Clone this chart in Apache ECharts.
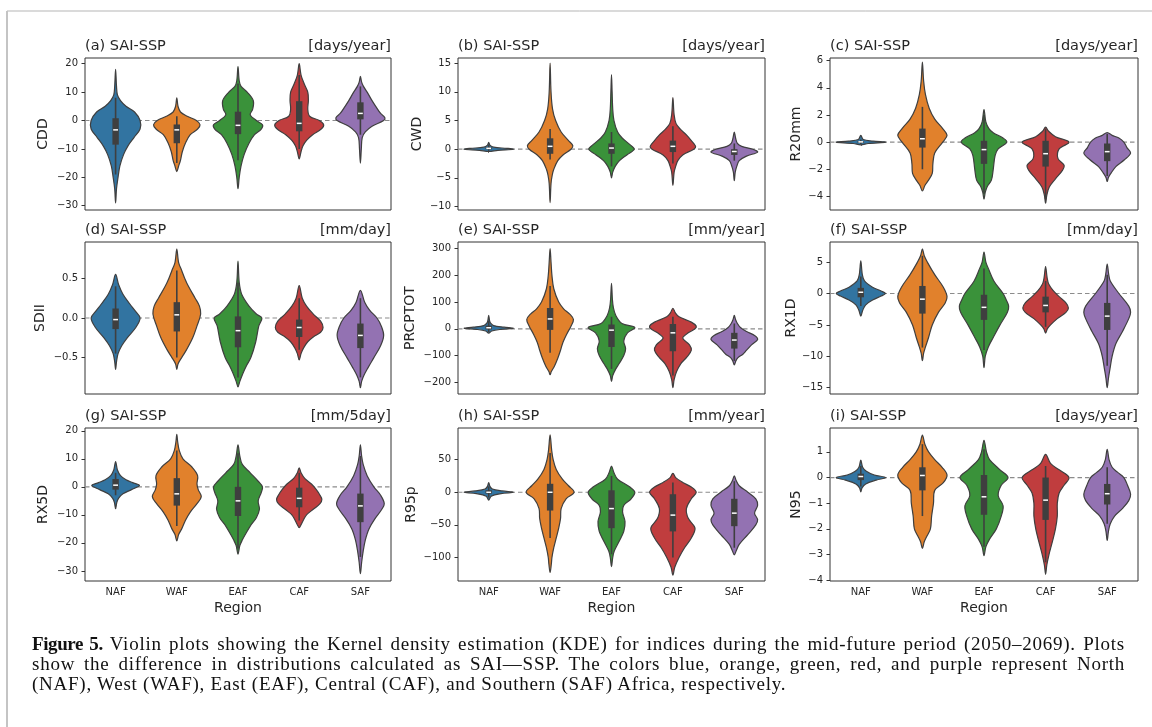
<!DOCTYPE html>
<html>
<head>
<meta charset="utf-8">
<script src="https://cdn.jsdelivr.net/npm/echarts@6/dist/echarts.min.js"></script>
<style>
html, body {margin: 0; padding: 0; background: #fff;}
#wrap {position: relative; width: 1152px; height: 727px; overflow: hidden;}
#chart {width: 1152px; height: 727px;}
#caption {position: absolute; left: 32px; top: 634px; width: 1093px; color: #111;
    font-family: "Liberation Serif", "DejaVu Serif", serif; font-size: 19px; line-height: 20px; letter-spacing: 0.75px;}
#caption b {letter-spacing: -0.4px;}
#caption .jl {text-align: justify; text-align-last: justify;}
</style>
</head>
<body>
<div id="wrap">
<div id="chart"></div>
<div id="caption">
<div class="jl"><b>Figure 5.</b> Violin plots showing the Kernel density estimation (KDE) for indices during the mid-future period (2050–2069). Plots</div>
<div class="jl">show the difference in distributions calculated as SAI—SSP. The colors blue, orange, green, red, and purple represent North</div>
<div>(NAF), West (WAF), East (EAF), Central (CAF), and Southern (SAF) Africa, respectively.</div>
</div>
</div>
<script>
var regions = ['NAF', 'WAF', 'EAF', 'CAF', 'SAF'];
var palette = ['#3274a1', '#e1812c', '#3a923a', '#c03d3e', '#9372b2'];

// violin outline per region: [value, half width in category units]
// box per region: [low whisker, q1, median, q3, high whisker]
var cddShape = [
    [[-29,0],[-24,0.015],[-20,0.04],[-16,0.07],[-12,0.13],[-9,0.2],[-6,0.3],[-3,0.4],[0,0.4],[3,0.31],[5,0.17],[7,0.08],[9,0.03],[12,0.015],[18,0]],
    [[-18,0],[-16,0.03],[-14,0.06],[-11,0.09],[-8,0.14],[-5,0.22],[-3,0.34],[-1.5,0.38],[0,0.32],[1.5,0.17],[3,0.06],[5,0.02],[8,0]],
    [[-24,0],[-20,0.02],[-16,0.05],[-12,0.1],[-8,0.18],[-5,0.27],[-3,0.38],[-1.5,0.4],[0,0.3],[2,0.2],[4,0.24],[7,0.25],[10,0.15],[12,0.05],[14,0.02],[19,0]],
    [[-13.5,0],[-11,0.03],[-9,0.06],[-7,0.12],[-5,0.22],[-3,0.36],[-1.5,0.4],[0,0.33],[1.5,0.17],[4,0.14],[7,0.15],[10,0.14],[13,0.08],[16,0.03],[20,0]],
    [[-15,0],[-10,0.015],[-6,0.03],[-4,0.08],[-2,0.19],[0,0.38],[1,0.4],[2.5,0.33],[5,0.25],[7,0.19],[10,0.11],[12,0.05],[13.5,0.02],[15.5,0]]
];
var cddBox = [[-19,-8.5,-3.3,0.8,8], [-15,-8,-3.3,-1.4,1.5], [-14,-4.8,-1.7,3.1,13], [-10,-3.8,-1,6.8,16], [-5,0.4,2.5,6.4,12]];
var cddTicks = [-30, -20, -10, 0, 10, 20];

var cwdShape = [
    [[-0.4,0],[-0.2,0.15],[0,0.4],[0.15,0.3],[0.35,0.08],[0.7,0.02],[1.2,0]],
    [[-9.3,0],[-6,0.015],[-4.5,0.035],[-3.5,0.06],[-2,0.125],[-1,0.21],[0,0.34],[0.6,0.37],[1.5,0.3],[3,0.18],[5,0.09],[7,0.04],[10,0.015],[15,0]],
    [[-5,0],[-4,0.02],[-3,0.06],[-2,0.13],[-1,0.25],[0,0.37],[0.8,0.3],[2,0.17],[3,0.1],[5,0.04],[7,0.02],[10,0.01],[13,0]],
    [[-6.3,0],[-4,0.02],[-3,0.045],[-2,0.08],[-1,0.16],[0,0.34],[0.5,0.37],[1.5,0.3],[2.5,0.22],[3.5,0.12],[4.5,0.05],[6,0.02],[9,0]],
    [[-5.5,0],[-4,0.015],[-3,0.04],[-2,0.08],[-1.2,0.2],[-0.5,0.38],[0,0.3],[0.5,0.12],[1,0.05],[2,0.02],[3,0]]
];
var cwdBox = [[-0.3,0,0.15,0.3,0.8], [-1.8,-0.8,0.5,1.9,3.5], [-3,-0.8,0.2,1,3], [-2.5,-0.5,0.5,1.5,4], [-2,-1,-0.4,0,1]];
var cwdTicks = [-10, -5, 0, 5, 10, 15];

var r20Shape = [
    [[-0.2,0],[-0.1,0.12],[0,0.4],[0.08,0.2],[0.2,0.04],[0.5,0]],
    [[-3.6,0],[-3.2,0.04],[-2.8,0.1],[-2.3,0.16],[-1.6,0.17],[-0.8,0.2],[0,0.33],[0.5,0.4],[1,0.33],[1.7,0.2],[2.5,0.11],[3.5,0.05],[4.5,0.02],[5.9,0]],
    [[-4.2,0],[-3.7,0.02],[-3.3,0.05],[-2.8,0.12],[-2,0.15],[-1,0.18],[-0.5,0.23],[0,0.37],[0.3,0.31],[0.7,0.15],[1,0.08],[1.5,0.03],[2.4,0]],
    [[-4.5,0],[-3.9,0.02],[-3.3,0.06],[-2.7,0.16],[-2.1,0.27],[-1.7,0.3],[-1.2,0.2],[-0.5,0.22],[0,0.38],[0.4,0.16],[0.8,0.05],[1.1,0]],
    [[-2.9,0],[-2.6,0.02],[-2.3,0.06],[-1.8,0.14],[-1.3,0.28],[-0.8,0.38],[-0.4,0.32],[0,0.27],[0.3,0.19],[0.5,0.08],[0.7,0]]
];
var r20Box = [[-0.15,-0.05,0.02,0.08,0.2], [-2,-0.4,0.25,1,2.6], [-3.8,-1.6,-0.55,0.1,2], [-4.2,-1.8,-0.85,0.1,1], [-2.5,-1.4,-0.7,-0.1,0.6]];
var r20Ticks = [-4, -2, 0, 2, 4, 6];

var sdiiShape = [
    [[-0.65,0],[-0.55,0.015],[-0.45,0.04],[-0.35,0.1],[-0.25,0.19],[-0.12,0.33],[0,0.4],[0.08,0.33],[0.18,0.23],[0.3,0.12],[0.42,0.05],[0.55,0]],
    [[-0.65,0],[-0.58,0.02],[-0.5,0.08],[-0.4,0.16],[-0.25,0.26],[-0.1,0.33],[0.05,0.39],[0.15,0.37],[0.25,0.3],[0.4,0.19],[0.5,0.13],[0.6,0.08],[0.7,0.03],[0.87,0]],
    [[-0.87,0],[-0.8,0.03],[-0.7,0.08],[-0.6,0.14],[-0.5,0.21],[-0.3,0.29],[-0.1,0.34],[0,0.39],[0.05,0.3],[0.15,0.18],[0.3,0.06],[0.45,0.02],[0.72,0]],
    [[-0.53,0],[-0.45,0.03],[-0.38,0.07],[-0.3,0.14],[-0.24,0.23],[-0.18,0.35],[-0.12,0.39],[-0.04,0.35],[0.05,0.23],[0.15,0.12],[0.25,0.05],[0.41,0]],
    [[-0.88,0],[-0.8,0.02],[-0.72,0.06],[-0.62,0.13],[-0.5,0.22],[-0.35,0.33],[-0.22,0.38],[-0.1,0.34],[0,0.27],[0.1,0.15],[0.2,0.07],[0.35,0]]
];
var sdiiBox = [[-0.45,-0.14,-0.02,0.12,0.4], [-0.5,-0.17,0.04,0.2,0.6], [-0.75,-0.37,-0.16,0.02,0.45], [-0.4,-0.24,-0.12,-0.02,0.25], [-0.75,-0.38,-0.22,-0.07,0.25]];
var sdiiTicks = [-0.5, 0, 0.5];

var prcpShape = [
    [[-16,0],[-8,0.05],[-2,0.2],[2,0.4],[6,0.25],[12,0.08],[20,0.035],[30,0.015],[50,0]],
    [[-172,0],[-160,0.02],[-140,0.07],[-110,0.125],[-80,0.17],[-50,0.21],[-20,0.27],[10,0.34],[35,0.38],[55,0.32],[75,0.22],[100,0.14],[150,0.06],[200,0.03],[250,0.015],[300,0]],
    [[-197,0],[-175,0.02],[-150,0.07],[-130,0.125],[-100,0.2],[-75,0.23],[-45,0.2],[-15,0.26],[5,0.38],[20,0.17],[50,0.07],[80,0.03],[110,0.015],[170,0]],
    [[-220,0],[-190,0.02],[-160,0.06],[-130,0.13],[-105,0.23],[-80,0.3],[-60,0.27],[-35,0.16],[-15,0.25],[0,0.36],[10,0.38],[25,0.3],[45,0.1],[60,0.04],[77,0]],
    [[-135,0],[-120,0.025],[-108,0.06],[-95,0.14],[-80,0.2],[-60,0.28],[-40,0.38],[-25,0.33],[-10,0.2],[5,0.1],[20,0.05],[35,0.02],[50,0]]
];
var prcpBox = [[-12,-2,4,12,30], [-90,-4,37,78,160], [-150,-68,-5,16,45], [-175,-84,-15,18,45], [-120,-74,-42,-15,20]];
var prcpTicks = [-200, -100, 0, 100, 200, 300];

var rx1Shape = [
    [[-3.6,0],[-2.7,0.03],[-1.8,0.08],[-1,0.2],[-0.4,0.33],[0,0.4],[0.4,0.33],[1,0.19],[2,0.06],[3,0.025],[5.2,0]],
    [[-10.7,0],[-9.5,0.02],[-8.5,0.05],[-7,0.1],[-5,0.16],[-3,0.26],[-1.5,0.37],[-0.5,0.4],[1,0.34],[3,0.2],[5,0.08],[6,0.03],[7.1,0]],
    [[-11.8,0],[-10,0.02],[-8.5,0.07],[-7,0.15],[-5,0.26],[-3,0.38],[-2,0.4],[-1,0.36],[0,0.31],[2,0.16],[4,0.07],[5,0.03],[6.6,0]],
    [[-6.3,0],[-5.6,0.03],[-5,0.08],[-4,0.19],[-3,0.33],[-2.3,0.37],[-1.5,0.33],[-0.5,0.22],[0.5,0.12],[1.5,0.05],[2.5,0.025],[4.3,0]],
    [[-15,0],[-13.5,0.02],[-12,0.045],[-10,0.08],[-8,0.14],[-6,0.25],[-4,0.35],[-3,0.38],[-2,0.35],[0,0.19],[2,0.05],[3,0.025],[4.7,0]]
];
var rx1Box = [[-2,-0.6,0.2,0.9,2.7], [-8.6,-3.2,-0.9,1.2,6], [-9,-4.2,-2.2,-0.2,4], [-5.3,-3,-1.9,-0.5,2], [-11.5,-5.8,-3.6,-1.5,3]];
var rx1Ticks = [-15, -10, -5, 0, 5];

var rx5Shape = [
    [[-7.8,0],[-5.5,0.02],[-4,0.05],[-2.5,0.12],[-1,0.26],[0.5,0.39],[1.5,0.28],[2.5,0.17],[4,0.08],[6,0.03],[9,0]],
    [[-19.3,0],[-17,0.03],[-15,0.08],[-12,0.14],[-9,0.22],[-6,0.33],[-3.5,0.4],[-1,0.35],[1,0.33],[4,0.34],[7,0.25],[10,0.1],[13,0.04],[16,0.015],[18.7,0]],
    [[-24,0],[-21,0.03],[-19,0.07],[-17,0.12],[-14,0.2],[-11,0.3],[-8,0.35],[-5,0.33],[-2,0.38],[0,0.4],[2,0.33],[5,0.2],[8,0.07],[11,0.03],[15,0]],
    [[-14.6,0],[-13.5,0.03],[-12,0.065],[-10,0.12],[-8,0.23],[-6,0.34],[-4.5,0.37],[-3,0.34],[-1,0.28],[1,0.2],[3,0.09],[5,0.03],[6.8,0]],
    [[-31,0],[-27,0.02],[-23,0.045],[-19,0.08],[-15,0.14],[-11,0.25],[-8,0.35],[-6,0.39],[-3,0.33],[0,0.22],[4,0.11],[8,0.045],[11,0.02],[15,0]]
];
var rx5Box = [[-3,-1,0.6,2.8,5], [-14,-6.7,-2.5,3.1,13], [-22,-10.4,-5,0,12], [-12,-7.3,-4.1,-0.3,5], [-25,-12.6,-6.8,-2.4,11]];
var rx5Ticks = [-30, -20, -10, 0, 10, 20];

var r95Shape = [
    [[-12,0],[-6,0.04],[-2,0.2],[0,0.4],[2,0.22],[5,0.06],[9,0.02],[15,0]],
    [[-123,0],[-110,0.02],[-100,0.03],[-85,0.06],[-70,0.1],[-55,0.14],[-40,0.17],[-25,0.18],[-10,0.26],[0,0.39],[10,0.3],[20,0.2],[35,0.1],[50,0.05],[65,0.025],[88,0]],
    [[-114,0],[-100,0.02],[-90,0.045],[-75,0.125],[-60,0.2],[-45,0.22],[-30,0.18],[-20,0.2],[-10,0.32],[0,0.38],[8,0.3],[20,0.1],[30,0.04],[40,0]],
    [[-127,0],[-115,0.03],[-100,0.1],[-85,0.19],[-70,0.3],[-55,0.36],[-40,0.25],[-25,0.22],[-10,0.3],[0,0.38],[8,0.3],[15,0.16],[22,0.05],[29,0]],
    [[-96,0],[-90,0.03],[-80,0.08],[-65,0.22],[-50,0.35],[-42,0.38],[-32,0.33],[-20,0.38],[-10,0.35],[0,0.22],[10,0.08],[18,0.03],[25,0]]
];
var r95Box = [[-8,-2,0,3,9], [-70,-28,0,13,60], [-95,-55,-25,3,25], [-100,-60,-35,-3,15], [-85,-52,-32,-10,17]];
var r95Ticks = [-100, -50, 0, 50];

var n95Shape = [
    [[-0.56,0],[-0.4,0.02],[-0.25,0.08],[-0.1,0.25],[0,0.4],[0.1,0.22],[0.25,0.09],[0.4,0.03],[0.68,0]],
    [[-2.76,0],[-2.5,0.03],[-2.3,0.07],[-2,0.13],[-1.5,0.15],[-1,0.18],[-0.5,0.2],[-0.2,0.34],[0.1,0.4],[0.4,0.32],[0.7,0.2],[1,0.1],[1.3,0.04],[1.65,0]],
    [[-3.04,0],[-2.7,0.03],[-2.4,0.09],[-2,0.2],[-1.5,0.28],[-1.1,0.31],[-0.7,0.23],[-0.3,0.28],[0,0.39],[0.3,0.26],[0.7,0.09],[1,0.04],[1.45,0]],
    [[-3.77,0],[-3.4,0.02],[-3,0.055],[-2.5,0.11],[-2,0.16],[-1.5,0.19],[-1,0.19],[-0.6,0.22],[-0.3,0.3],[0,0.38],[0.3,0.22],[0.55,0.08],[0.9,0]],
    [[-2.45,0],[-2.1,0.02],[-1.8,0.05],[-1.5,0.12],[-1.2,0.25],[-0.9,0.35],[-0.65,0.38],[-0.3,0.33],[0,0.27],[0.2,0.17],[0.4,0.08],[0.7,0.03],[1.1,0]]
];
var n95Box = [[-0.35,-0.1,0.04,0.15,0.45], [-1.5,-0.5,0.08,0.4,1.3], [-2.7,-1.45,-0.75,0.1,1.1], [-3.3,-1.65,-0.88,0,0.45], [-1.8,-1.05,-0.63,-0.25,0.4]];
var n95Ticks = [-4, -3, -2, -1, 0, 1];

var panels = [
    {tag: '(a) SAI-SSP', unit: '[days/year]', name: 'CDD', shape: cddShape, box: cddBox, ticks: cddTicks, range: [-31.5, 22], digits: 0, gap: 35},
    {tag: '(b) SAI-SSP', unit: '[days/year]', name: 'CWD', shape: cwdShape, box: cwdBox, ticks: cwdTicks, range: [-10.6, 15.9], digits: 0, gap: 34},
    {tag: '(c) SAI-SSP', unit: '[days/year]', name: 'R20mm', shape: r20Shape, box: r20Box, ticks: r20Ticks, range: [-5, 6.2], digits: 0, gap: 27},
    {tag: '(d) SAI-SSP', unit: '[mm/day]', name: 'SDII', shape: sdiiShape, box: sdiiBox, ticks: sdiiTicks, range: [-0.96, 0.96], digits: 1, gap: 38},
    {tag: '(e) SAI-SSP', unit: '[mm/year]', name: 'PRCPTOT', shape: prcpShape, box: prcpBox, ticks: prcpTicks, range: [-244, 325], digits: 0, gap: 41},
    {tag: '(f) SAI-SSP', unit: '[mm/day]', name: 'RX1D', shape: rx1Shape, box: rx1Box, ticks: rx1Ticks, range: [-16, 8.2], digits: 0, gap: 27},
    {tag: '(g) SAI-SSP', unit: '[mm/5day]', name: 'RX5D', shape: rx5Shape, box: rx5Box, ticks: rx5Ticks, range: [-33.6, 21], digits: 0, gap: 35},
    {tag: '(h) SAI-SSP', unit: '[mm/year]', name: 'R95p', shape: r95Shape, box: r95Box, ticks: r95Ticks, range: [-136, 98.5], digits: 0, gap: 40},
    {tag: '(i) SAI-SSP', unit: '[days/year]', name: 'N95', shape: n95Shape, box: n95Box, ticks: n95Ticks, range: [-4.03, 1.93], digits: 0, gap: 27}
];

var colLeft = [85, 458, 830], colWidth = [306, 307, 308];
var rowTop = [58, 242, 428], rowHeight = [152, 152, 153];
var SANS = '"DejaVu Sans", sans-serif';
var INK = '#262626', EDGE = '#3f3f3f';

function violinRenderer(p) {
    return function (params, api) {
        var i = api.value(0);
        var band = api.size([1, 0])[0];
        var prof = p.shape[i], b = p.box[i];
        var cx = api.coord([i, 0])[0];
        var right = [], left = [];
        prof.forEach(function (d, j) {
            var y = api.coord([i, d[0]])[1];
            right.push([cx + d[1] * band, y]);
            if (j > 0 && j < prof.length - 1) left.unshift([cx - d[1] * band, y]);
        });
        var yLo = api.coord([i, b[0]])[1], yQ1 = api.coord([i, b[1]])[1];
        var yMed = api.coord([i, b[2]])[1], yQ3 = api.coord([i, b[3]])[1];
        var yHi = api.coord([i, b[4]])[1];
        return {
            type: 'group',
            children: [
                {type: 'polygon', shape: {points: right.concat(left), smooth: 0.35},
                    style: {fill: palette[i], stroke: EDGE, lineWidth: 1.2}},
                {type: 'line', shape: {x1: cx, y1: yLo, x2: cx, y2: yHi},
                    style: {stroke: EDGE, lineWidth: 1.6}},
                {type: 'rect', shape: {x: cx - 3.2, y: yQ3, width: 6.4, height: yQ1 - yQ3},
                    style: {fill: EDGE}},
                {type: 'line', shape: {x1: cx - 2.4, y1: yMed, x2: cx + 2.4, y2: yMed},
                    style: {stroke: '#ffffff', lineWidth: 1.5}}
            ]
        };
    };
}

function zeroLine(params, api) {
    var cs = params.coordSys;
    var y = api.coord([0, 0])[1];
    return {type: 'line', shape: {x1: cs.x, y1: y, x2: cs.x + cs.width, y2: y},
        style: {stroke: '#8c8c8c', lineWidth: 1.2, lineDash: [4.5, 3]}};
}

var grids = [], xAxes = [], yAxes = [], series = [], graphics = [];

panels.forEach(function (p, k) {
    var col = k % 3, row = Math.floor(k / 3);
    var bottomRow = row === 2;
    grids.push({
        left: colLeft[col], top: rowTop[row], width: colWidth[col], height: rowHeight[row],
        show: true, borderColor: '#333', borderWidth: 1, backgroundColor: 'transparent',
        containLabel: false, outerBoundsMode: 'none'
    });
    xAxes.push({
        type: 'category', gridIndex: k, data: regions, boundaryGap: true,
        axisLine: {show: false},
        axisTick: {show: true, alignWithLabel: true, length: 3.5, lineStyle: {color: '#333', width: 1}},
        axisLabel: {show: bottomRow, margin: 6, fontSize: 10, color: INK, fontFamily: SANS},
        name: bottomRow ? 'Region' : '', nameLocation: 'middle', nameGap: 20,
        nameTextStyle: {fontSize: 14, color: INK, fontFamily: SANS}
    });
    yAxes.push({
        type: 'value', gridIndex: k, min: p.range[0], max: p.range[1],
        splitLine: {show: false}, axisLine: {show: false},
        axisTick: {show: true, length: 3.5, customValues: p.ticks, lineStyle: {color: '#333', width: 1}},
        axisLabel: {
            customValues: p.ticks, margin: 7, fontSize: 10, color: INK, fontFamily: SANS,
            formatter: function (v) { return Number(v).toFixed(p.digits).replace('-', '\u2212'); }
        },
        name: p.name, nameLocation: 'middle', nameRotate: 90, nameGap: p.gap,
        nameTextStyle: {fontSize: 14, color: INK, fontFamily: SANS}
    });
    series.push({
        type: 'custom', xAxisIndex: k, yAxisIndex: k, z: 1, silent: true,
        data: [[0, 0]], renderItem: zeroLine
    });
    series.push({
        type: 'custom', xAxisIndex: k, yAxisIndex: k, z: 2, silent: true,
        data: regions.map(function (r, i) { return [i, p.box[i][2]]; }),
        renderItem: violinRenderer(p)
    });
    // panel tag on the left, unit on the right
    graphics.push({type: 'text', x: colLeft[col], y: rowTop[row] - 12,
        style: {text: p.tag, fill: INK, fontSize: 14.5, fontFamily: SANS, textAlign: 'left', textVerticalAlign: 'middle'}});
    graphics.push({type: 'text', x: colLeft[col] + colWidth[col], y: rowTop[row] - 12,
        style: {text: p.unit, fill: INK, fontSize: 14.5, fontFamily: SANS, textAlign: 'right', textVerticalAlign: 'middle'}});
});

// page frame
graphics.push({type: 'line', shape: {x1: 7, y1: 11, x2: 1152, y2: 11}, style: {stroke: '#b5b5b5', lineWidth: 1}});
graphics.push({type: 'line', shape: {x1: 7, y1: 11, x2: 7, y2: 727}, style: {stroke: '#c4c4c4', lineWidth: 2}});

var chart = echarts.init(document.getElementById('chart'));
chart.setOption({
    animation: false,
    backgroundColor: '#fff',
    grid: grids,
    xAxis: xAxes,
    yAxis: yAxes,
    series: series,
    graphic: graphics
});
</script>
</body>
</html>
